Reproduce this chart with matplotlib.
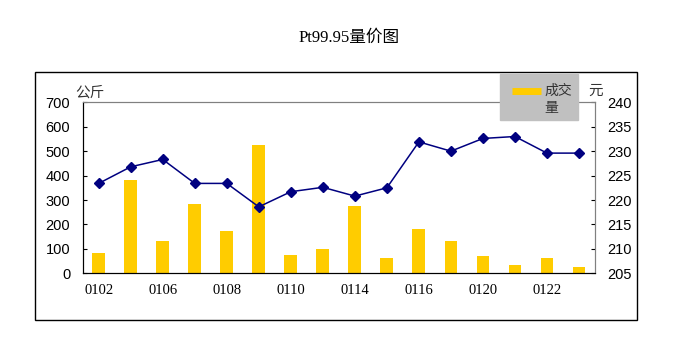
import numpy as np
import matplotlib
matplotlib.use('Agg')
import matplotlib.pyplot as plt
from matplotlib.lines import Line2D
from matplotlib.patches import Rectangle

plt.rcParams['font.family'] = ['Liberation Sans', 'Noto Sans CJK SC']

# data
dates = ['0102', '0105', '0106', '0107', '0108', '0109', '0110', '0113',
         '0114', '0115', '0116', '0119', '0120', '0121', '0122', '0123']
volume = [82, 383, 131, 284, 173, 525, 75, 101,
          276, 63, 183, 131, 72, 34, 61, 27]          # 公斤
price = [223.4, 226.8, 228.3, 223.4, 223.4, 218.6, 221.7, 222.6,
         220.8, 222.5, 231.9, 230.0, 232.6, 233.0, 229.6, 229.6]  # 元

W, H = 699, 355
fig = plt.figure(figsize=(W/100, H/100), dpi=100)
ax = fig.add_axes([82.7/W, 1-273.3/H, (595-82.7)/W, (273.3-102.3)/H])
x = np.arange(len(dates))

ax.bar(x, volume, width=0.4, color='#FFCC00', zorder=2)
ax.set_xlim(-0.5, len(dates)-0.5)
ax.set_ylim(0, 700)
ax.set_yticks(np.arange(0, 701, 100))
ax.set_xticks(x[::2])
ax.set_xticklabels(dates[::2], family='Liberation Serif', fontsize=10.5)
ax.tick_params(axis='x', length=0, pad=7.5)
ax.tick_params(axis='y', direction='in', length=3, pad=9, labelsize=10.5)
ax.spines['top'].set_color('#808080')
ax.spines['right'].set_color('#808080')

ax2 = ax.twinx()
ax2.plot(x, price, color='#000080', lw=1.1, marker='D', ms=5.5, zorder=3)
ax2.set_ylim(205, 240)
ax2.set_yticks(np.arange(205, 241, 5))
ax2.tick_params(axis='y', direction='in', length=3, pad=9, labelsize=10.5)
ax2.spines['right'].set_color('#808080')
ax2.spines['top'].set_color('#808080')

fig.text(75/W, 1-92.7/H, '公斤', fontsize=10.5, va='center', ha='left',
         color='#333333')
fig.text(596/W, 1-90.7/H, '元', fontsize=10.5, va='center', ha='center',
         color='#333333')

fig.text(0.5, 1-38/H, 'Pt99.95量价图', fontsize=12, ha='center', va='center',
         family=['Liberation Serif', 'Noto Sans CJK SC'])

# legend box
fig.patches.append(Rectangle((500/W, 1-120/H), 78/W, 46/H,
                             transform=fig.transFigure, color='#C0C0C0',
                             zorder=5))
fig.lines.append(Line2D([512/W, 541/W], [1-90.7/H, 1-90.7/H],
                        transform=fig.transFigure, color='#FFCC00', lw=5,
                        solid_capstyle='butt', zorder=6))
fig.text(544/W, 1-90.7/H, '成交', fontsize=10, va='center', ha='left',
         color='#333333', zorder=7)
fig.text(544/W, 1-108/H, '量', fontsize=10, va='center', ha='left',
         color='#333333', zorder=7)

# outer frame
fig.patches.append(Rectangle((34.5/W, 1-319.5/H), (637-34.5)/W, (319.5-72)/H,
                             transform=fig.transFigure, fill=False,
                             edgecolor='black', lw=1))

fig.savefig('out.png', dpi=100)
